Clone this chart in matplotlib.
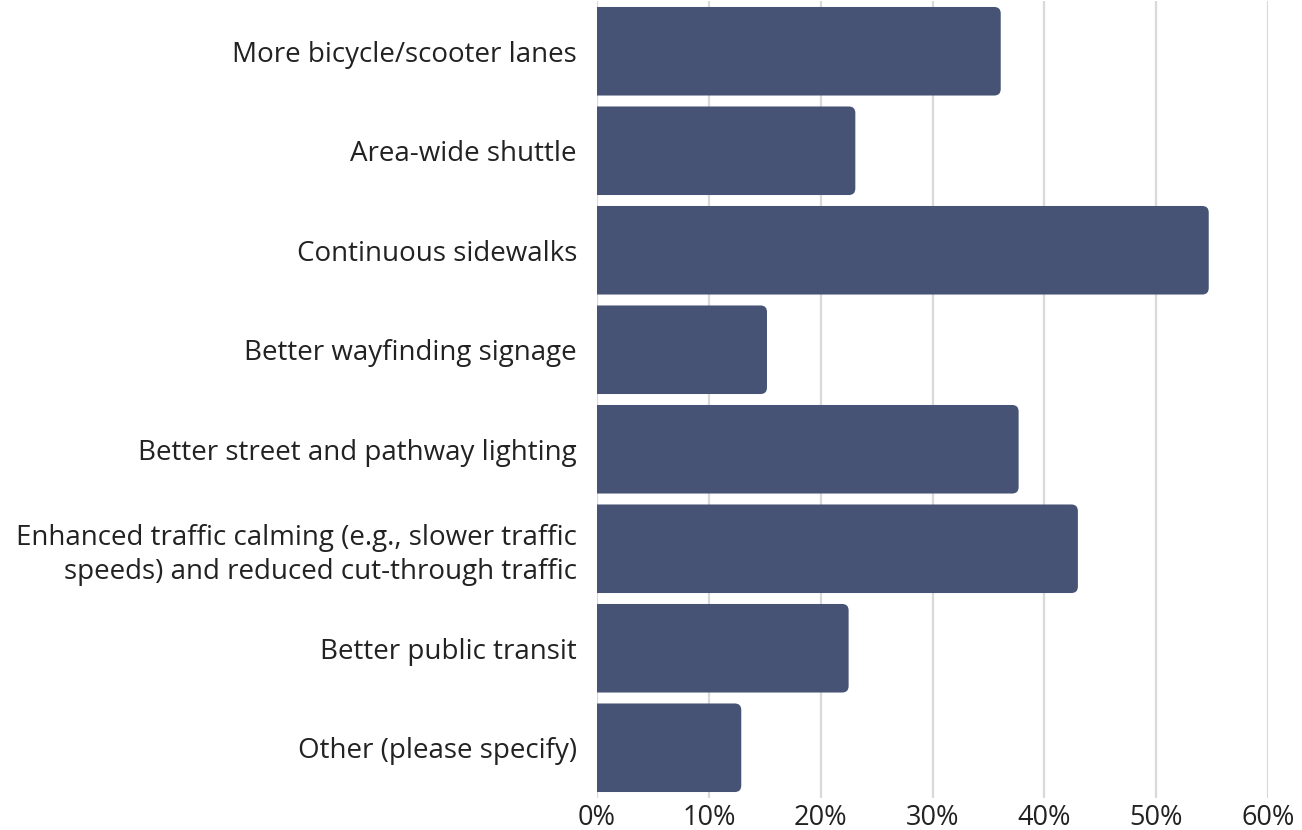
import matplotlib
matplotlib.use("Agg")
import matplotlib.pyplot as plt
from matplotlib.path import Path
from matplotlib.patches import PathPatch
from matplotlib.ticker import FuncFormatter

categories = [
    "More bicycle/scooter lanes",
    "Area-wide shuttle",
    "Continuous sidewalks",
    "Better wayfinding signage",
    "Better street and pathway lighting",
    "Enhanced traffic calming (e.g., slower traffic\nspeeds) and reduced cut-through traffic",
    "Better public transit",
    "Other (please specify)",
]
values = [0.361, 0.231, 0.547, 0.152, 0.377, 0.430, 0.225, 0.129]
xticks = [0, 0.1, 0.2, 0.3, 0.4, 0.5, 0.6]

bar_color = "#465375"
text_color = "#222222"
font = ["Open Sans", "DejaVu Sans"]

fig = plt.figure(figsize=(13.02, 8.30), dpi=100)
ax = fig.add_axes([597 / 1302, 1 - 797.5 / 830, (1268 - 597) / 1302, 796 / 830])

ypos = list(range(len(categories)))
bars = ax.barh(ypos, values, height=0.89, color=bar_color, zorder=3)

ax.set_xlim(0, 0.6)
ax.set_ylim(len(categories) - 0.5, -0.5)
ax.set_xticks(xticks)
ax.xaxis.set_major_formatter(FuncFormatter(lambda v, p: f"{v*100:.0f}%"))
ax.set_yticks(ypos)
ax.set_yticklabels(categories, fontsize=20, color=text_color, family=font,
                   multialignment="right", linespacing=1.25)
for lbl in ax.get_xticklabels():
    lbl.set_fontsize(19.5)
    lbl.set_color(text_color)
    lbl.set_family(font)
ax.tick_params(axis="both", length=0)
ax.tick_params(axis="y", pad=14.4)
ax.tick_params(axis="x", pad=5)
ax.grid(axis="x", color="#d9d9d9", linewidth=1.6, zorder=0)
ax.grid(axis="y", visible=False)
for s in ax.spines.values():
    s.set_visible(False)
ax.set_axisbelow(True)

# rounded right corners
fig.canvas.draw()
t = ax.transData
px_x = t.transform((1, 0))[0] - t.transform((0, 0))[0]
px_y = abs(t.transform((0, 1))[1] - t.transform((0, 0))[1])
r_px = 6.5
rx, ry = r_px / px_x, r_px / px_y
for b in bars:
    x0, y0 = b.get_x(), b.get_y()
    w, h = b.get_width(), b.get_height()
    x1, y1 = x0 + w, y0 + h
    verts = [
        (x0, y0), (x1 - rx, y0), (x1, y0), (x1, y0 + ry),
        (x1, y1 - ry), (x1, y1), (x1 - rx, y1), (x0, y1), (x0, y0),
    ]
    codes = [Path.MOVETO, Path.LINETO, Path.CURVE3, Path.CURVE3,
             Path.LINETO, Path.CURVE3, Path.CURVE3, Path.LINETO, Path.CLOSEPOLY]
    patch = PathPatch(Path(verts, codes), facecolor=bar_color, edgecolor="none", zorder=3)
    ax.add_patch(patch)
    b.set_visible(False)

fig.savefig("out.png", dpi=100, facecolor="white")
